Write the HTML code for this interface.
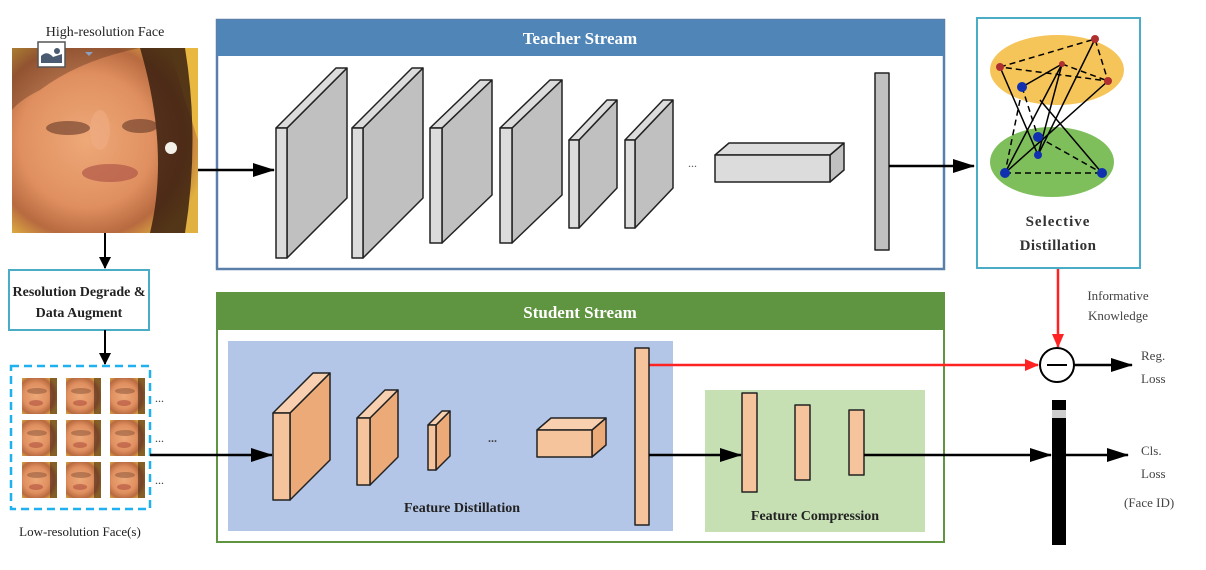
<!DOCTYPE html>
<html><head><meta charset="utf-8"><style>
html,body{margin:0;padding:0;background:#fff;}
svg{display:block;}
text{font-family:"Liberation Serif",serif;}
</style></head><body>
<svg width="1206" height="570" viewBox="0 0 1206 570" xmlns="http://www.w3.org/2000/svg">
<defs>
<radialGradient id="face" cx="0.4" cy="0.5" r="0.65">
<stop offset="0" stop-color="#eea878"/><stop offset="0.55" stop-color="#e09060"/><stop offset="0.8" stop-color="#b86a40"/><stop offset="1" stop-color="#e0b040"/>
</radialGradient>
<marker id="ab" markerWidth="12" markerHeight="12" refX="11" refY="6" orient="auto" markerUnits="userSpaceOnUse"><path d="M0,0 L12,6 L0,12 z" fill="#000"/></marker>
<marker id="ar" markerWidth="14" markerHeight="12" refX="13" refY="6" orient="auto" markerUnits="userSpaceOnUse"><path d="M0,0 L14,6 L0,12 z" fill="#f22"/></marker>
<marker id="abig" markerWidth="22" markerHeight="14" refX="21" refY="7" orient="auto" markerUnits="userSpaceOnUse"><path d="M0,0 L22,7 L0,14 z" fill="#000"/></marker>
<g id="thumb"><rect width="35" height="36" fill="url(#face)"/><rect x="28" width="7" height="36" fill="#4a2a18" opacity="0.6"/><ellipse cx="15" cy="13" rx="10" ry="3" fill="#7a4a30" opacity="0.45"/><ellipse cx="14" cy="25" rx="7" ry="3" fill="#b05040" opacity="0.6"/></g>
</defs>

<!-- High-res face -->
<text x="105" y="36" font-size="14" text-anchor="middle" fill="#222">High-resolution Face</text>
<rect x="12" y="48" width="186" height="185" fill="#e49a68"/>
<rect x="12" y="48" width="186" height="185" fill="url(#face)"/>
<path d="M170,48 L198,48 L198,140 L185,100z" fill="#e8b840"/>
<path d="M140,48 L185,48 Q200,140 185,233 L150,233 Q170,150 140,48z" fill="#3a2010" opacity="0.85"/>
<path d="M12,48 L140,48 Q80,60 40,90 Q20,100 12,110z" fill="#4a2818" opacity="0.35"/>
<ellipse cx="68" cy="128" rx="22" ry="7" fill="#5a3020" opacity="0.55"/>
<ellipse cx="140" cy="126" rx="18" ry="7" fill="#5a3020" opacity="0.55"/>
<ellipse cx="100" cy="130" rx="10" ry="20" fill="#f0b088" opacity="0.5"/>
<ellipse cx="110" cy="173" rx="28" ry="9" fill="#b05848" opacity="0.7"/>
<circle cx="171" cy="148" r="6" fill="#f4f0ea"/>
<rect x="38" y="42" width="27" height="25" fill="#fff" stroke="#555" stroke-width="1.5"/>
<path d="M41,63 L41,56 Q47,50 53,57 L62,54 L62,63z" fill="#4a5a70"/><circle cx="57" cy="51" r="3" fill="#4a5a70"/>
<path d="M85,52 L93,52 L89,56z" fill="#8aa0c0"/>

<line x1="105" y1="233" x2="105" y2="268" stroke="#000" stroke-width="2" marker-end="url(#ab)"/>
<rect x="9" y="270" width="140" height="60" fill="#fff" stroke="#4bacc6" stroke-width="2"/>
<text x="79" y="296" font-size="14" font-weight="bold" text-anchor="middle" fill="#222">Resolution Degrade &amp;</text>
<text x="79" y="317" font-size="14" font-weight="bold" text-anchor="middle" fill="#222">Data Augment</text>
<line x1="105" y1="330" x2="105" y2="364" stroke="#000" stroke-width="2" marker-end="url(#ab)"/>

<rect x="11" y="366" width="139" height="143" fill="none" stroke="#1fb0ef" stroke-width="2.5" stroke-dasharray="8,5"/>
<use href="#thumb" x="22" y="378"/><use href="#thumb" x="66" y="378"/><use href="#thumb" x="110" y="378"/>
<use href="#thumb" x="22" y="420"/><use href="#thumb" x="66" y="420"/><use href="#thumb" x="110" y="420"/>
<use href="#thumb" x="22" y="462"/><use href="#thumb" x="66" y="462"/><use href="#thumb" x="110" y="462"/>
<text x="155" y="402" font-size="12" fill="#333">...</text>
<text x="155" y="442" font-size="12" fill="#333">...</text>
<text x="155" y="484" font-size="12" fill="#333">...</text>
<text x="80" y="536" font-size="13" text-anchor="middle" fill="#222">Low-resolution Face(s)</text>

<!-- Teacher -->
<rect x="217" y="20" width="727" height="249" fill="#fff" stroke="#5a80aa" stroke-width="2.5"/>
<rect x="217" y="20" width="727" height="36" fill="#5085b8"/>
<text x="580" y="44" font-size="17" font-weight="bold" text-anchor="middle" fill="#fff">Teacher Stream</text>
<line x1="198" y1="170" x2="274" y2="170" stroke="#000" stroke-width="2.5" marker-end="url(#abig)"/>
<g stroke="#222" stroke-width="1.5" stroke-linejoin="round">
<g fill="#c0c0c0">
<path d="M287,128 L347,68 L347,198 L287,258z"/><path d="M276,128 L336,68 L347,68 L287,128z" fill="#dcdcdc"/><rect x="276" y="128" width="11" height="130" fill="#dcdcdc"/>
<path d="M363,128 L423,68 L423,198 L363,258z"/><path d="M352,128 L412,68 L423,68 L363,128z" fill="#dcdcdc"/><rect x="352" y="128" width="11" height="130" fill="#dcdcdc"/>
<path d="M442,128 L492,80 L492,195 L442,243z"/><path d="M430,128 L480,80 L492,80 L442,128z" fill="#dcdcdc"/><rect x="430" y="128" width="12" height="115" fill="#dcdcdc"/>
<path d="M512,128 L562,80 L562,195 L512,243z"/><path d="M500,128 L550,80 L562,80 L512,128z" fill="#dcdcdc"/><rect x="500" y="128" width="12" height="115" fill="#dcdcdc"/>
<path d="M579,140 L617,100 L617,188 L579,228z"/><path d="M569,140 L607,100 L617,100 L579,140z" fill="#dcdcdc"/><rect x="569" y="140" width="10" height="88" fill="#dcdcdc"/>
<path d="M635,140 L673,100 L673,188 L635,228z"/><path d="M625,140 L663,100 L673,100 L635,140z" fill="#dcdcdc"/><rect x="625" y="140" width="10" height="88" fill="#dcdcdc"/>
<path d="M830,155 L844,143 L844,170 L830,182z"/><path d="M715,155 L729,143 L844,143 L830,155z" fill="#dcdcdc"/><rect x="715" y="155" width="115" height="27" fill="#dcdcdc"/>
<rect x="875" y="73" width="14" height="177" fill="#c0c0c0"/>
</g></g>
<text x="688" y="167" font-size="12" fill="#555">...</text>
<line x1="889" y1="166" x2="974" y2="166" stroke="#000" stroke-width="2.5" marker-end="url(#abig)"/>

<!-- Selective distillation -->
<rect x="977" y="18" width="163" height="250" fill="#fff" stroke="#4bacc6" stroke-width="2"/>
<ellipse cx="1057" cy="70" rx="67" ry="35" fill="#f6c55a"/>
<ellipse cx="1052" cy="162" rx="62" ry="35" fill="#7ebf5c"/>
<g stroke="#000" stroke-width="1.5" fill="none" stroke-dasharray="6,4">
<path d="M1000,67 L1095,39 L1108,81 L1000,67"/><path d="M1062,64 L1108,81"/>
<path d="M1005,173 L1102,173"/><path d="M1038,137 L1102,173"/><path d="M1022,87 L1038,137"/><path d="M1020,100 L1005,173"/>
</g>
<g stroke="#000" stroke-width="1.5" fill="none">
<path d="M1022,87 L1062,64 L1005,173"/><path d="M1062,64 L1038,155"/><path d="M1095,39 L1038,155"/>
<path d="M1000,67 L1038,155"/><path d="M1108,81 L1005,173"/><path d="M1040,100 L1102,173"/>
</g>
<g fill="#b03030"><circle cx="1000" cy="67" r="4"/><circle cx="1062" cy="64" r="3"/><circle cx="1095" cy="39" r="4"/><circle cx="1108" cy="81" r="4"/></g>
<g fill="#1030b0"><circle cx="1022" cy="87" r="5"/><circle cx="1038" cy="137" r="5"/><circle cx="1038" cy="155" r="4"/><circle cx="1005" cy="173" r="5"/><circle cx="1102" cy="173" r="5"/></g>
<text x="1058" y="226" font-size="15" font-weight="bold" text-anchor="middle" fill="#333" letter-spacing="1">Selective</text>
<text x="1058" y="250" font-size="15" font-weight="bold" text-anchor="middle" fill="#333" letter-spacing="0.5">Distillation</text>

<line x1="1058" y1="269" x2="1058" y2="347" stroke="#f22" stroke-width="2.5" marker-end="url(#ar)"/>
<text x="1118" y="300" font-size="13" text-anchor="middle" fill="#444">Informative</text>
<text x="1118" y="320" font-size="13" text-anchor="middle" fill="#444">Knowledge</text>
<circle cx="1057" cy="365" r="17" fill="#fff" stroke="#000" stroke-width="2"/>
<line x1="1047" y1="365" x2="1067" y2="365" stroke="#000" stroke-width="2"/>
<line x1="1074" y1="365" x2="1132" y2="365" stroke="#000" stroke-width="2.5" marker-end="url(#abig)"/>
<text x="1141" y="360" font-size="13" fill="#444">Reg.</text>
<text x="1141" y="383" font-size="13" fill="#444">Loss</text>

<!-- Student -->
<rect x="217" y="293" width="727" height="249" fill="#fff" stroke="#5f9440" stroke-width="2"/>
<rect x="217" y="293" width="727" height="37" fill="#5f9440"/>
<text x="580" y="318" font-size="17" font-weight="bold" text-anchor="middle" fill="#fff">Student Stream</text>
<rect x="228" y="341" width="445" height="190" fill="#b3c6e7"/>
<rect x="705" y="390" width="220" height="142" fill="#c6e0b4"/>
<text x="462" y="512" font-size="14" font-weight="bold" text-anchor="middle" fill="#222">Feature Distillation</text>
<text x="815" y="520" font-size="14" font-weight="bold" text-anchor="middle" fill="#222">Feature Compression</text>
<line x1="649" y1="365" x2="1038" y2="365" stroke="#f22" stroke-width="2.5" marker-end="url(#ar)"/>
<line x1="150" y1="455" x2="272" y2="455" stroke="#000" stroke-width="2.5" marker-end="url(#abig)"/>
<g stroke="#222" stroke-width="1.5" stroke-linejoin="round" fill="#ecaa78">
<path d="M290,413 L330,373 L330,460 L290,500z"/><path d="M273,413 L313,373 L330,373 L290,413z" fill="#f8d0b0"/><rect x="273" y="413" width="17" height="87" fill="#f6c49c"/>
<path d="M370,418 L398,390 L398,457 L370,485z"/><path d="M357,418 L385,390 L398,390 L370,418z" fill="#f8d0b0"/><rect x="357" y="418" width="13" height="67" fill="#f6c49c"/>
<path d="M436,425 L450,411 L450,456 L436,470z"/><path d="M428,425 L442,411 L450,411 L436,425z" fill="#f8d0b0"/><rect x="428" y="425" width="8" height="45" fill="#f6c49c"/>
<path d="M592,430 L606,418 L606,445 L592,457z"/><path d="M537,430 L551,418 L606,418 L592,430z" fill="#f8d0b0"/><rect x="537" y="430" width="55" height="27" fill="#f6c49c"/>
<rect x="635" y="348" width="14" height="177" fill="#f6c49c"/>
<rect x="742" y="393" width="15" height="99" fill="#f6c49c"/>
<rect x="795" y="405" width="15" height="75" fill="#f6c49c"/>
<rect x="849" y="410" width="15" height="65" fill="#f6c49c"/>
</g>
<text x="488" y="442" font-size="12" font-weight="bold" fill="#444">...</text>
<line x1="649" y1="455" x2="741" y2="455" stroke="#000" stroke-width="2.5" marker-end="url(#abig)"/>
<line x1="864" y1="455" x2="1051" y2="455" stroke="#000" stroke-width="2.5" marker-end="url(#abig)"/>

<rect x="1052" y="400" width="14" height="145" fill="#000"/>
<rect x="1052" y="410" width="14" height="8" fill="#ccc"/>
<line x1="1066" y1="455" x2="1128" y2="455" stroke="#000" stroke-width="2.5" marker-end="url(#abig)"/>
<text x="1141" y="455" font-size="13" fill="#444">Cls.</text>
<text x="1141" y="478" font-size="13" fill="#444">Loss</text>
<text x="1124" y="507" font-size="13" fill="#444">(Face ID)</text>
</svg>
</body></html>
